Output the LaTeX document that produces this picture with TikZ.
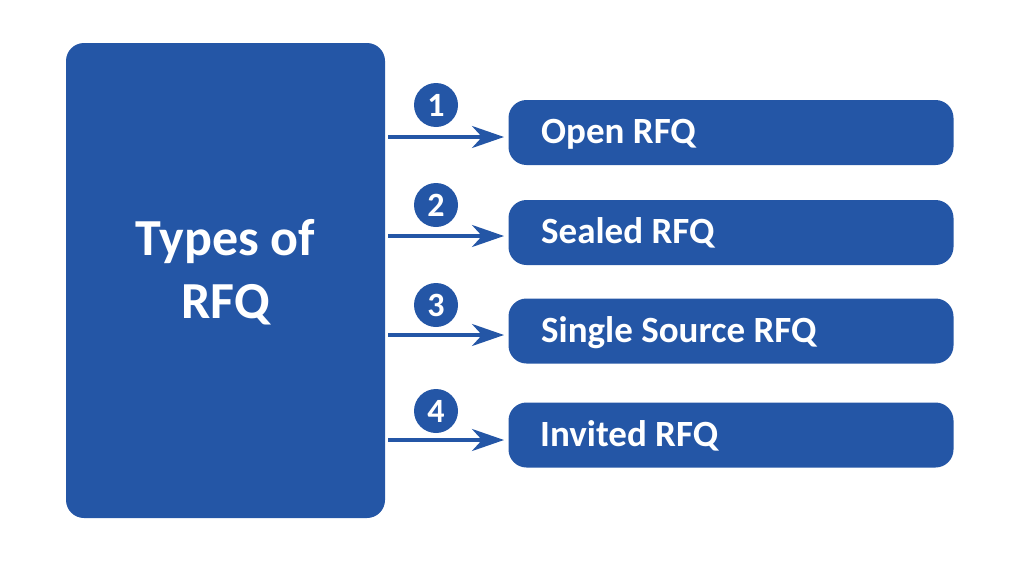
\documentclass[tikz,border=0pt]{standalone}
\usepackage{fontspec}
\setmainfont{Carlito}
\usetikzlibrary{arrows.meta}
\definecolor{rfqblue}{RGB}{36,86,166}
\tikzset{
  bigbox/.style={fill=rfqblue, draw=none, rounded corners=18pt, minimum width=319pt, minimum height=475pt, inner sep=0pt},
  typebox/.style={fill=rfqblue, draw=none, rounded corners=18pt, minimum width=445pt, minimum height=65pt, inner sep=0pt},
  typetext/.style={text=white, inner sep=0pt, anchor=base west, font=\fontsize{37}{40}\selectfont\bfseries},
  numcircle/.style={circle, fill=rfqblue, draw=none, minimum size=44pt, inner sep=0pt, text=white,
     font=\fontsize{34}{36}\selectfont\bfseries},
  mainlabel/.style={text=white, align=center, font=\fontsize{52}{63}\selectfont\bfseries, inner sep=0pt},
  conn/.style={draw=rfqblue, line width=3.5pt, -{Stealth[length=32pt, width=22pt, inset=10pt]}}
}
\begin{document}
\begin{tikzpicture}[x=1pt, y=-1pt]
\useasboundingbox (0,0) rectangle (1024,562);
\node[bigbox] (main) at (225.5,280.5) {};
\node[mainlabel] (mainlbl) at (225.5,272) {Types of\\RFQ};
\node[typebox] (b1) at (731,132.5) {};
\node[typebox] (b2) at (731,232.5) {};
\node[typebox] (b3) at (731,331) {};
\node[typebox] (b4) at (731,435) {};
\node[typetext] (t1) at (541,143.5) {Open RFQ};
\node[typetext] (t2) at (541,243.5) {Sealed RFQ};
\node[typetext] (t3) at (541,342) {Single Source RFQ};
\node[typetext] (t4) at (540,446) {Invited RFQ};
\node[numcircle] (n1) at (436,105) {1};
\node[numcircle] (n2) at (436,205) {2};
\node[numcircle] (n3) at (436,305) {3};
\node[numcircle] (n4) at (436,411) {4};
\coordinate (s1) at (388,137); \coordinate (e1) at (504,137);
\coordinate (s2) at (388,236); \coordinate (e2) at (504,236);
\coordinate (s3) at (388,335); \coordinate (e3) at (504,335);
\coordinate (s4) at (388,440); \coordinate (e4) at (504,440);
\draw[conn] (s1) -- (e1);
\draw[conn] (s2) -- (e2);
\draw[conn] (s3) -- (e3);
\draw[conn] (s4) -- (e4);
\end{tikzpicture}
\end{document}
